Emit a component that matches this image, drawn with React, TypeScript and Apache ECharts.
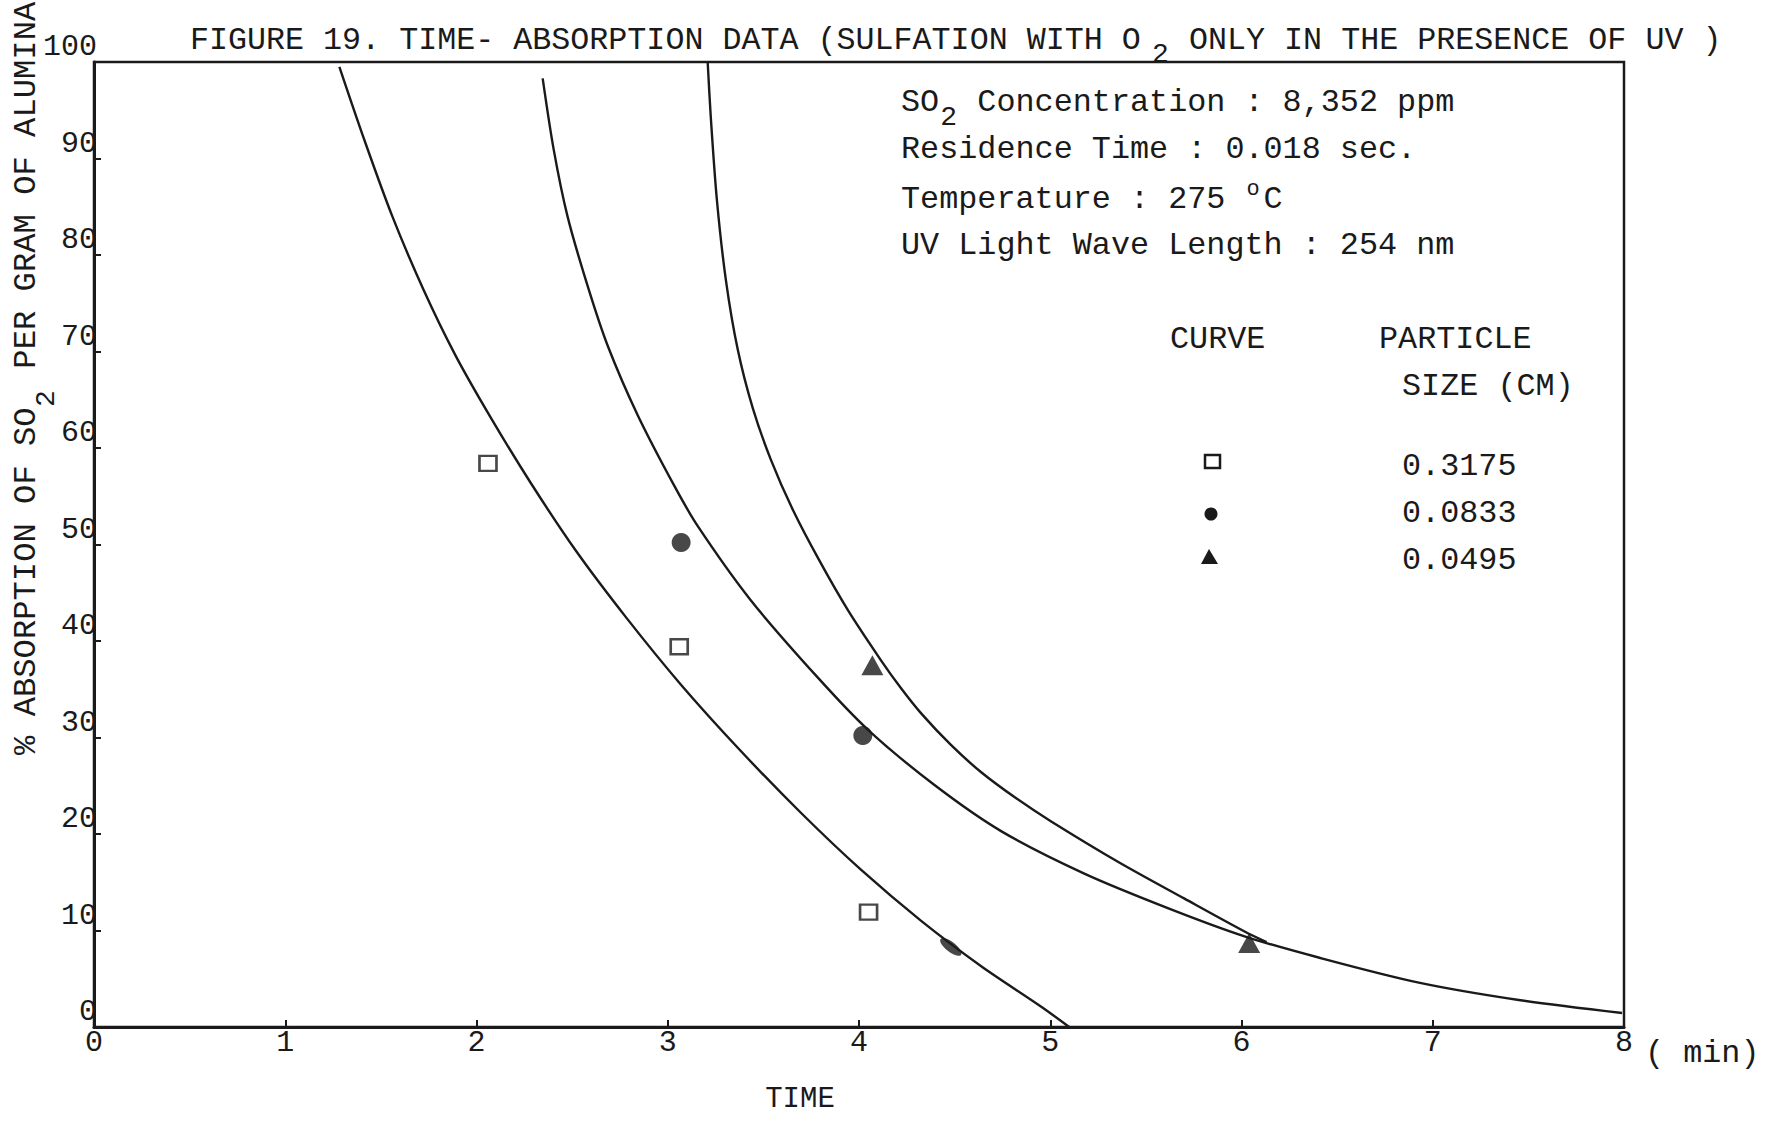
import React, { useEffect, useRef } from "react";
import * as echarts from "echarts";

// ---- axis ticks ----
const xTicks = [0, 1, 2, 3, 4, 5, 6, 7, 8];
const yTicks = [0, 10, 20, 30, 40, 50, 60, 70, 80, 90, 100];

// ---- fitted curves ----
// particle size 0.3175 cm
const curveAX = [1.283, 1.414, 1.56, 1.723, 1.89, 2.073, 2.283, 2.518, 2.78, 3.068, 3.382, 3.696, 4.01, 4.325, 4.639, 4.953, 5.099];
const curveAY = [99.5, 91.9, 84.0, 76.4, 69.6, 63.2, 56.4, 49.4, 42.5, 35.5, 28.6, 22.2, 16.3, 11.0, 6.3, 2.1, 0];
// particle size 0.0833 cm
const curveBX = [2.346, 2.403, 2.476, 2.581, 2.686, 2.843, 3.031, 3.157, 3.435, 3.785, 4.047, 4.393, 4.743, 5.178, 5.618, 6.016, 6.403, 6.927, 7.45, 7.99];
const curveBY = [98.3, 91.0, 84.0, 76.8, 70.6, 63.4, 56.2, 51.9, 44.2, 36.2, 30.8, 25.1, 20.3, 15.9, 12.3, 9.4, 7.2, 4.6, 2.8, 1.45];
// particle size 0.0495 cm
const curveCX = [3.209, 3.225, 3.257, 3.304, 3.366, 3.445, 3.539, 3.654, 3.791, 3.942, 4.115, 4.22, 4.325, 4.482, 4.639, 4.822, 5.005, 5.356, 5.702, 6.016, 6.131];
const curveCY = [99.9, 94.3, 85.7, 77.4, 70.2, 64.1, 58.8, 53.6, 48.4, 43.2, 38.0, 35.1, 32.5, 29.2, 26.4, 23.7, 21.3, 17.1, 13.3, 9.9, 8.8];

// ---- measured points ----
const squareX = [2.06, 3.06, 4.05];
const squareY = [58.4, 39.4, 11.9];
const circleX = [3.07, 4.02];
const circleY = [50.2, 30.2];
const smudgeX = [4.48];
const smudgeY = [8.3];
const triangleX = [4.07, 6.04];
const triangleY = [37.5, 8.7];

// ---- texts ----
const titleA = "FIGURE 19. TIME- ABSORPTION DATA (SULFATION WITH O";
const titleSub = "2";
const titleB = " ONLY IN THE PRESENCE OF UV )";
const yNameA = "% ABSORPTION OF SO";
const yNameSub = "2";
const yNameB = " PER GRAM OF ALUMINA";
const xName = "TIME";
const xUnit = "( min)";
const infoLine1A = "SO";
const infoLine1Sub = "2";
const infoLine1B = " Concentration : 8,352 ppm";
const infoLine2 = "Residence Time : 0.018 sec.";
const infoLine3A = "Temperature : 275 ";
const infoLine3Sup = "o";
const infoLine3B = "C";
const infoLine4 = "UV Light Wave Length : 254 nm";
const legendHead1 = "CURVE";
const legendHead2 = "PARTICLE";
const legendHead3 = "SIZE (CM)";
const legendSizes = ["0.3175", "0.0833", "0.0495"];

const FONT = '"Liberation Mono", "DejaVu Sans Mono", monospace';
const INK = "#1a1a1a";

const zip = (xs: number[], ys: number[]) => xs.map((x, i) => [x, ys[i]]);

function txt(text: string, x: number, y: number, size: number, extra: any = {}) {
  return {
    type: "text",
    x,
    y,
    silent: true,
    ...extra,
    style: {
      text,
      fontSize: size,
      fontFamily: FONT,
      fill: INK,
      align: "left",
      verticalAlign: "middle",
      ...(extra.style || {}),
    },
  };
}

export default function App() {
  const ref = useRef<HTMLDivElement>(null);

  useEffect(() => {
    if (!ref.current) return;
    const chart = echarts.init(ref.current, null, { renderer: "svg" });

    const tSize = 31.7; // title
    const iSize = 31.8; // info block
    const cw = iSize * 0.6;

    const graphics: any[] = [
      // title
      txt(titleA, 190, 41, tSize),
      txt(titleSub, 1152, 54, 28),
      txt(titleB, 1170, 41, tSize),
      // y axis name (rotated)
      txt(yNameA, 26, 755, 32.2, { rotation: Math.PI / 2 }),
      txt(yNameSub, 46, 407, 28, { rotation: Math.PI / 2 }),
      txt(yNameB, 26, 388, 32.2, { rotation: Math.PI / 2 }),
      // x axis name & unit
      txt(xName, 800, 1099, 29, { style: { align: "center" } }),
      txt(xUnit, 1645, 1054, iSize),
      // info block
      txt(infoLine1A, 901, 103, iSize),
      txt(infoLine1Sub, 901 + 2 * cw + 1, 117, 28),
      txt(infoLine1B, 901 + 3 * cw, 103, iSize),
      txt(infoLine2, 901, 150, iSize),
      txt(infoLine3A, 901, 200, iSize),
      txt(infoLine3Sup, 901 + 18 * cw + 2, 189, 22),
      txt(infoLine3B, 901 + 19 * cw, 200, iSize),
      txt(infoLine4, 901, 246, iSize),
      // legend
      txt(legendHead1, 1170, 340, iSize),
      txt(legendHead2, 1379, 340, iSize),
      txt(legendHead3, 1402, 387, iSize),
      txt(legendSizes[0], 1402, 467, iSize),
      txt(legendSizes[1], 1402, 514, iSize),
      txt(legendSizes[2], 1402, 561, iSize),
      {
        type: "rect",
        silent: true,
        shape: { x: 1205, y: 455, width: 15, height: 13 },
        style: { fill: "#fff", stroke: INK, lineWidth: 2.5 },
      },
      {
        type: "circle",
        silent: true,
        shape: { cx: 1211, cy: 514, r: 6.5 },
        style: { fill: INK },
      },
      {
        type: "polygon",
        silent: true,
        shape: { points: [[1209, 549], [1201, 564], [1218, 564]] },
        style: { fill: INK },
      },
    ];

    const lineStyle = { color: INK, width: 2.4 };

    chart.setOption({
      animation: false,
      backgroundColor: "#fff",
      grid: {
        left: 94,
        right: 149,
        top: 62,
        bottom: 94,
        show: true,
        borderColor: INK,
        borderWidth: 2.5,
        backgroundColor: "transparent",
      },
      xAxis: {
        type: "value",
        min: xTicks[0],
        max: xTicks[xTicks.length - 1],
        interval: 1,
        axisLine: { show: true, lineStyle: { color: INK, width: 3 } },
        axisTick: { show: true, inside: true, length: 7, lineStyle: { color: INK, width: 2 } },
        axisLabel: {
          fontFamily: FONT,
          fontSize: 30,
          color: INK,
          margin: 1,
          formatter: (v: number) => (xTicks.includes(v) ? String(v) : ""),
        },
        splitLine: { show: false },
      },
      yAxis: {
        type: "value",
        min: yTicks[0],
        max: yTicks[yTicks.length - 1],
        interval: 10,
        axisLine: { show: true, lineStyle: { color: INK, width: 3 } },
        axisTick: { show: true, inside: true, length: 7, lineStyle: { color: INK, width: 2 } },
        axisLabel: {
          fontFamily: FONT,
          fontSize: 30,
          color: INK,
          margin: -3,
          verticalAlign: "bottom",
          formatter: (v: number) => (yTicks.includes(v) ? String(v) : ""),
        },
        splitLine: { show: false },
      },
      graphic: graphics,
      series: [
        {
          name: "curve 0.3175",
          type: "line",
          data: zip(curveAX, curveAY),
          smooth: 0.3,
          showSymbol: false,
          lineStyle,
          z: 2,
        },
        {
          name: "curve 0.0833",
          type: "line",
          data: zip(curveBX, curveBY),
          smooth: 0.3,
          showSymbol: false,
          lineStyle,
          z: 2,
        },
        {
          name: "curve 0.0495",
          type: "line",
          data: zip(curveCX, curveCY),
          smooth: 0.3,
          showSymbol: false,
          lineStyle,
          z: 2,
        },
        {
          name: legendSizes[0],
          type: "scatter",
          symbol: "rect",
          symbolSize: [17, 15],
          data: zip(squareX, squareY),
          itemStyle: { color: "#fff", borderColor: INK, borderWidth: 2.5 },
          z: 3,
        },
        {
          name: legendSizes[1],
          type: "scatter",
          symbol: "circle",
          symbolSize: 19,
          data: [
            ...zip(circleX, circleY),
            ...zip(smudgeX, smudgeY).map((p) => ({
              value: p,
              symbolSize: [26, 10],
              symbolRotate: -38,
            })),
          ],
          itemStyle: { color: INK },
          z: 3,
        },
        {
          name: legendSizes[2],
          type: "scatter",
          symbol: "triangle",
          symbolSize: [22, 20],
          data: zip(triangleX, triangleY),
          itemStyle: { color: INK },
          z: 3,
        },
      ],
    });

    return () => chart.dispose();
  }, []);

  return (
    <div
      ref={ref}
      style={{ position: "absolute", left: 0, top: 0, width: 1773, height: 1121, background: "#fff" }}
    />
  );
}
